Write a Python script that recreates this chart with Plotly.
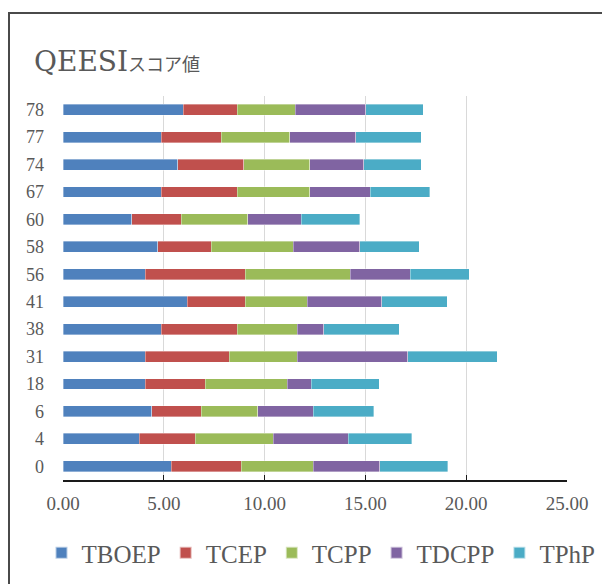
import plotly.graph_objects as go

categories = ["0", "4", "6", "18", "31", "38", "41", "56", "58", "60", "67", "74", "77", "78"]
TBOEP = [5.36, 3.78, 4.39, 4.08, 4.08, 4.88, 6.17, 4.08, 4.69, 3.40, 4.88, 5.68, 4.88, 5.96]
TCEP  = [3.48, 2.77, 2.47, 2.98, 4.17, 3.77, 2.87, 4.96, 2.67, 2.46, 3.77, 3.28, 2.97, 2.69]
TCPP  = [3.57, 3.88, 2.79, 4.06, 3.37, 2.97, 3.07, 5.22, 4.06, 3.30, 3.58, 3.27, 3.39, 2.88]
TDCPP = [3.30, 3.71, 2.76, 1.19, 5.48, 1.32, 3.70, 2.96, 3.30, 2.67, 3.00, 2.69, 3.28, 3.49]
TPhP  = [3.37, 3.15, 3.00, 3.38, 4.43, 3.74, 3.25, 2.93, 2.96, 2.89, 2.96, 2.86, 3.26, 2.86]
series_names = ["TBOEP", "TCEP", "TCPP", "TDCPP", "TPhP"]
series_values = [TBOEP, TCEP, TCPP, TDCPP, TPhP]
colors = ["#4F81BD", "#C0504D", "#9BBB59", "#8064A2", "#4BACC6"]
title_latin = "QEESI"
title_cjk = "スコア値"

FONT = "Liberation Serif, Noto Sans CJK JP, serif"
TITLE_FONT = "DejaVu Serif, Noto Sans CJK JP, serif"
GREY = "#595959"

fig = go.Figure()
for name, vals, col in zip(series_names, series_values, colors):
    fig.add_trace(go.Bar(
        y=categories, x=vals, name=name, orientation="h",
        marker=dict(color=col, line=dict(width=0.6, color="rgba(255,255,255,0.6)")),
    ))

# page has an 8px body margin; figure is 602x576 so the page is 610x584
OFF = 8
FW, FH = 610 - OFF, 584 - OFF
# plot area in page coords: x 63..567, y 96..480
L, T = 63 - OFF, 96 - OFF
R = FW - (567 - OFF)
B = FH - (480 - OFF)
W, H = FW - L - R, FH - T - B


def px(xp):  # page x -> paper
    return (xp - OFF - L) / W


def py(yp):  # page y -> paper
    return (FH - B - (yp - OFF)) / H


fig.update_layout(
    barmode="stack",
    bargap=0.6,
    width=FW, height=FH,
    margin=dict(l=L, r=R, t=T, b=B, autoexpand=False),
    paper_bgcolor="white",
    plot_bgcolor="white",
    font=dict(family=FONT, color=GREY),
    showlegend=True,
    legend=dict(
        orientation="h", x=px(41.5), xanchor="left", y=py(553), yanchor="middle",
        font=dict(family=FONT, size=25, color=GREY),
        traceorder="normal", itemsizing="constant",
    ),
    xaxis=dict(
        range=[0, 25], dtick=5, tickformat=".2f",
        showgrid=True, gridcolor="#d9d9d9", gridwidth=1,
        showline=True, linecolor="#1a1a1a", linewidth=1.5,
        ticks="inside", ticklen=5, tickcolor="#1a1a1a",
        tickfont=dict(family=FONT, size=19, color=GREY),
        ticklabelstandoff=5,
        zeroline=False, fixedrange=True, automargin=False,
    ),
    yaxis=dict(
        type="category", categoryorder="array", categoryarray=categories,
        showgrid=False, showline=False, ticks="",
        tickfont=dict(family=FONT, size=18, color=GREY),
        ticklabelstandoff=18,
        fixedrange=True, automargin=False,
    ),
    shapes=[dict(
        type="rect", xref="paper", yref="paper",
        x0=px(9), x1=px(660),
        y0=py(660), y1=py(13),
        line=dict(color="#4a4a4a", width=2), fillcolor="rgba(0,0,0,0)", layer="below",
    )],
    annotations=[dict(
        text=title_latin + '<span style="font-size:18px">' + title_cjk + '</span>',
        xref="paper", yref="paper",
        x=px(32), xanchor="left", y=py(61), yanchor="middle",
        showarrow=False, font=dict(family=TITLE_FONT, size=28, color=GREY),
    )],
)

fig.write_html("out.html")
